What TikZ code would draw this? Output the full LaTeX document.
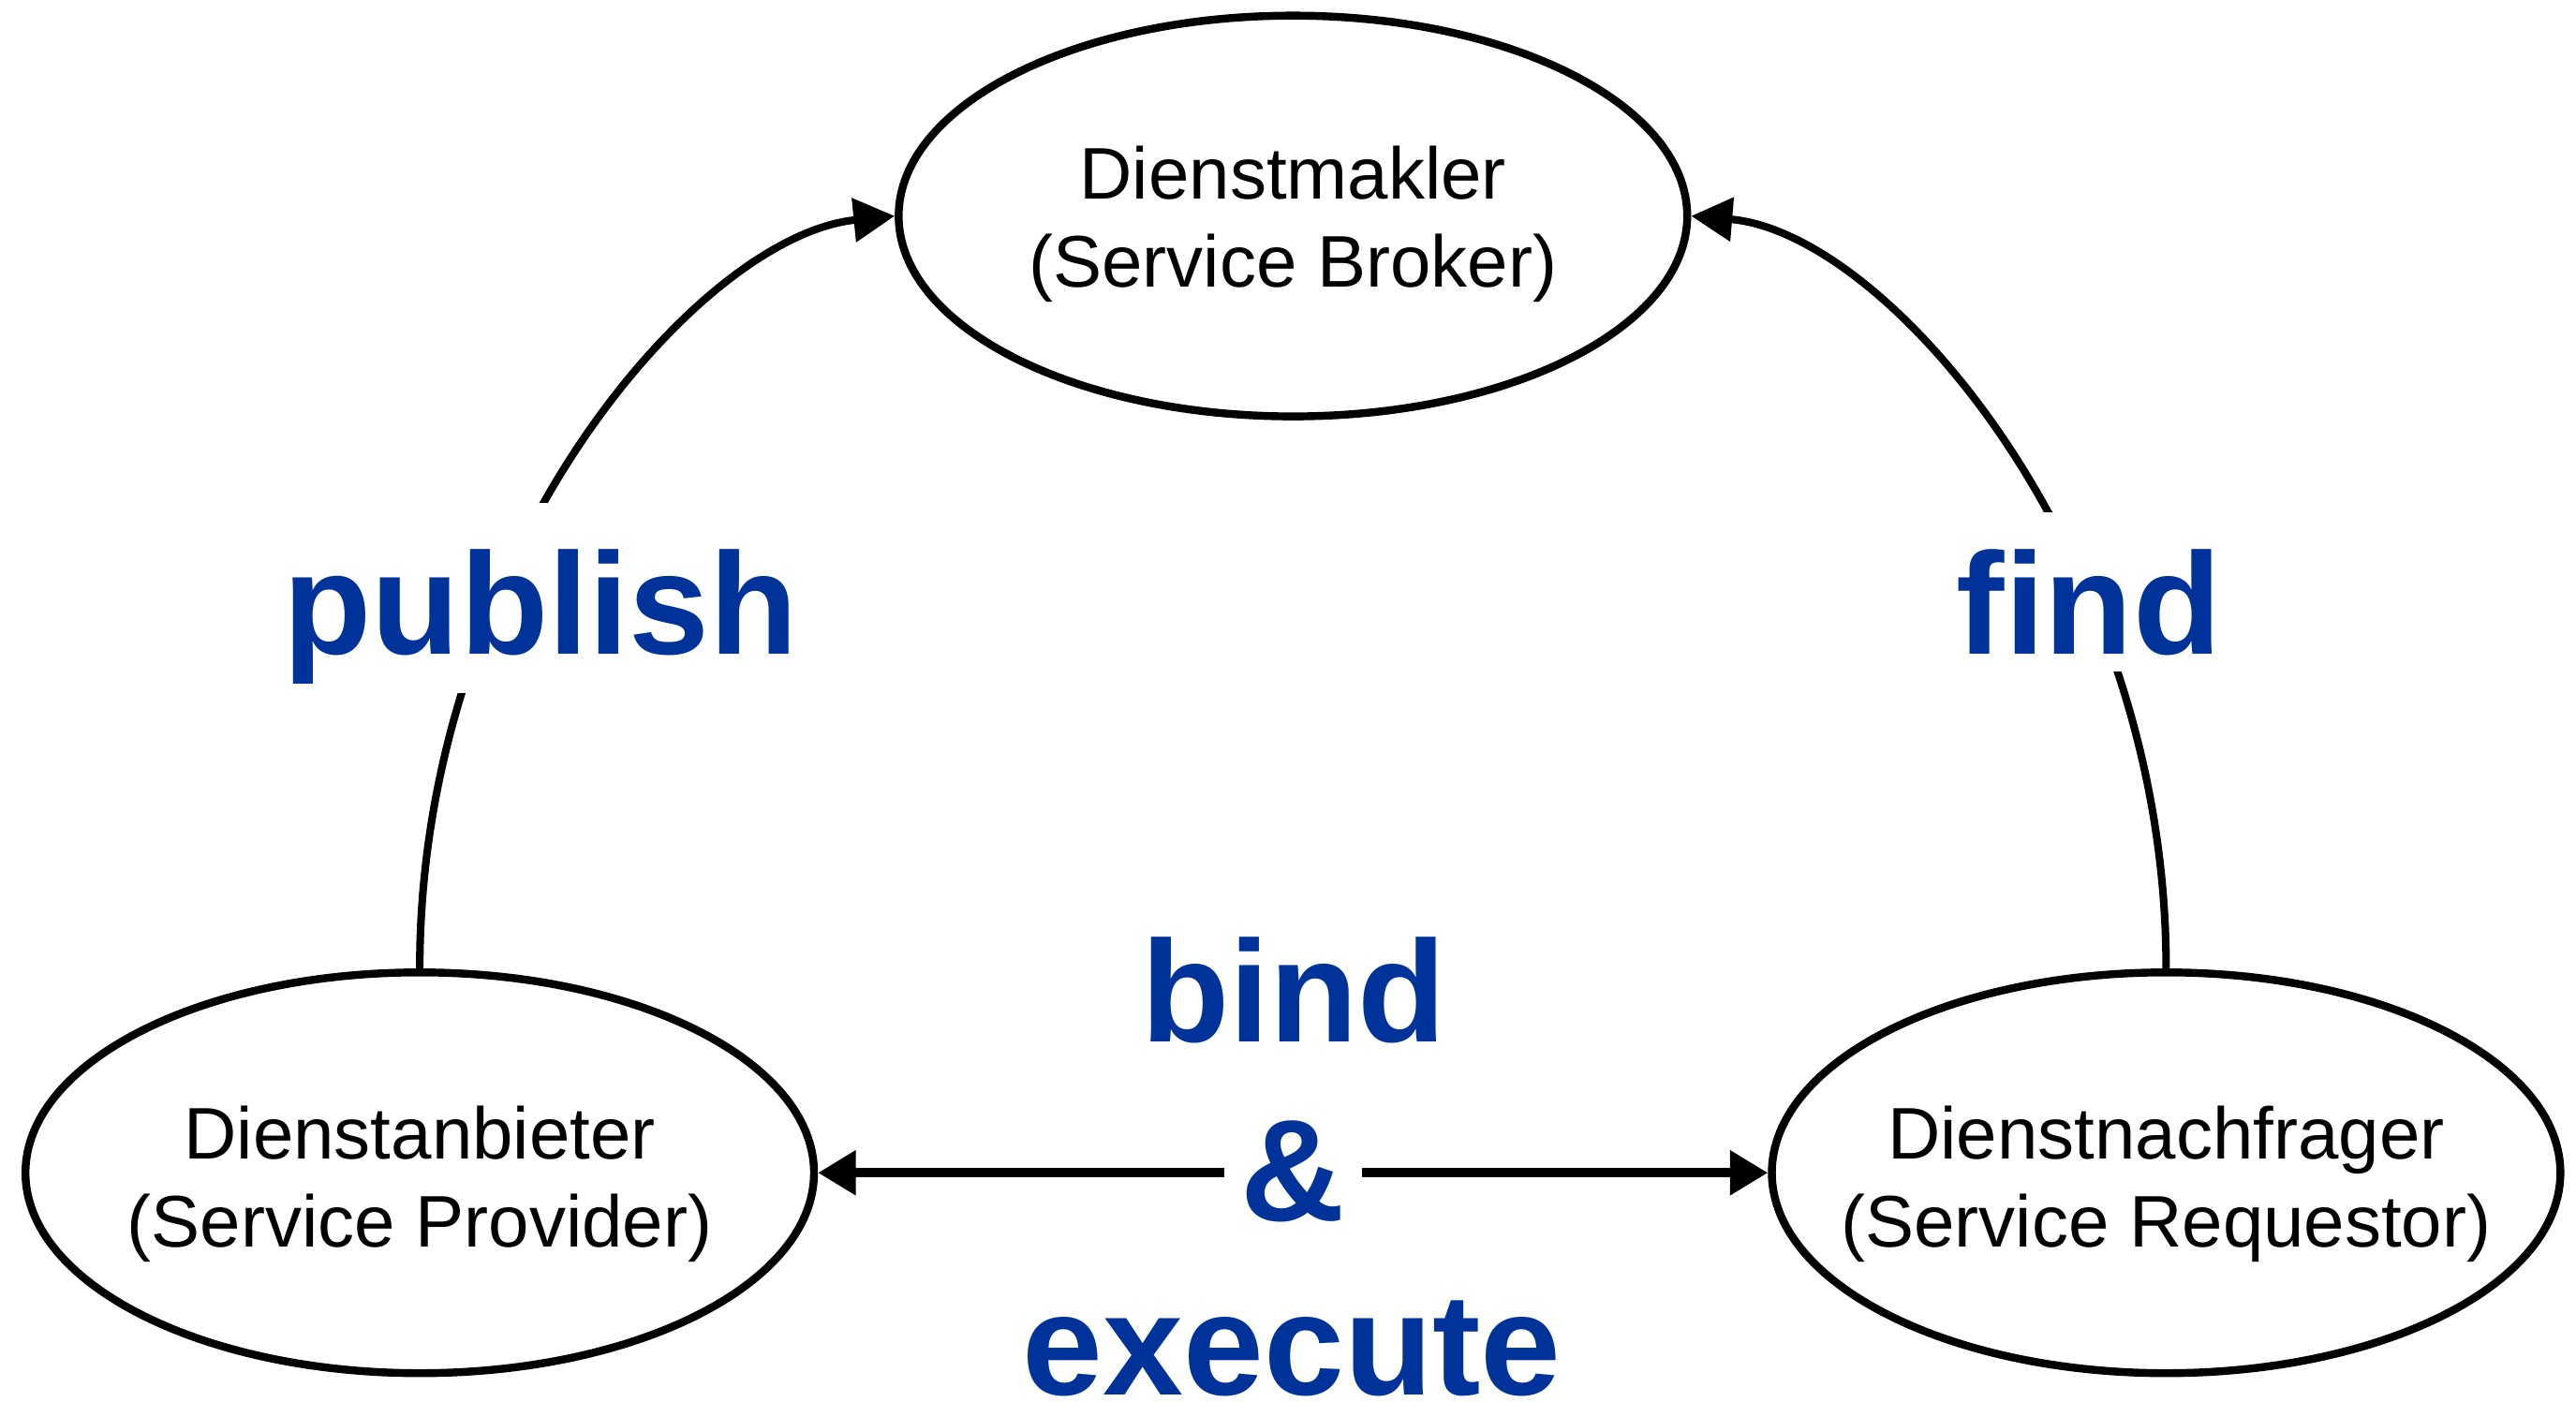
\documentclass[tikz,border=0pt]{standalone}
\usepackage{fontspec}
\setmainfont{Liberation Sans}
\usetikzlibrary{shapes.geometric,arrows.meta}
\definecolor{labelblue}{RGB}{0,51,153}
\begin{document}
\begin{tikzpicture}[x=0.5pt,y=-0.5pt,
  role/.style={ellipse, draw, line width=2.4pt, minimum width=240pt, minimum height=122pt, inner sep=0pt},
  roletext/.style={anchor=base, align=center, inner sep=0pt, font=\fontsize{22.25pt}{26.8pt}\selectfont},
  verb/.style={anchor=base, text=labelblue, inner sep=0pt, font=\fontsize{44pt}{52pt}\selectfont\bfseries},
  flow/.style={line width=2.3pt, -{Triangle[length=12.5pt,width=13pt]}},
  bothflow/.style={line width=2.8pt, {Triangle[length=11.5pt,width=13pt]}-{Triangle[length=11.5pt,width=13pt]}},
]
\useasboundingbox (0,0) rectangle (1568,853);

\node[role] (broker) at (787,131.5) {};
\node[role] (prov) at (255.5,714) {};
\node[role] (req) at (1318.5,714) {};

\node[roletext] (brokertext) at (787,175) {Dienstmakler\\(Service Broker)};
\node[roletext] (provtext) at (255.5,759) {Dienstanbieter\\(Service Provider)};
\node[roletext] (reqtext) at (1318.5,759) {Dienstnachfrager\\(Service Requestor)};

\draw[flow] (prov.north) .. controls +(0,-250) and +(-120,12) .. (broker.west);
\draw[flow] (req.north) .. controls +(0,-250) and +(120,10) .. (broker.east);
\draw[bothflow] (prov.east) -- (req.west);

\node[verb, fill=white, text height=46pt, text depth=12pt] (publish) at (329,398) {publish};
\node[verb, fill=white, text height=43pt, text depth=5.5pt] (find) at (1271.5,398) {find};
\node[verb] (bind) at (787.5,634.5) {bind};
\node[verb, fill=white, inner xsep=5pt] (amp) at (787,743) {\&};
\node[verb] (execute) at (786.5,849.5) {execute};
\end{tikzpicture}
\end{document}
